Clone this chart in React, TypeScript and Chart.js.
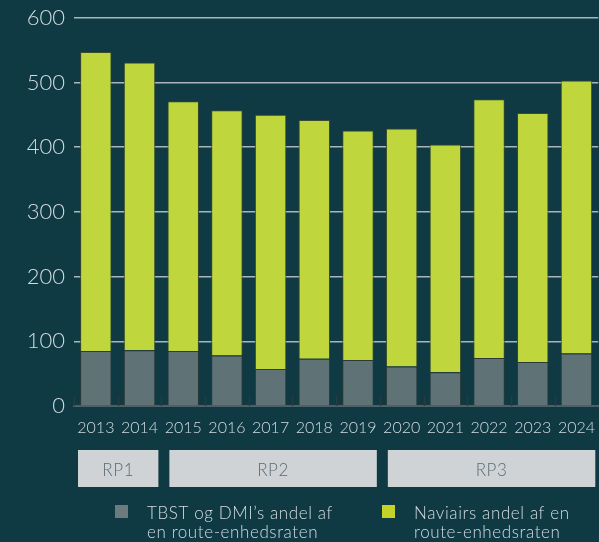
import React, { useEffect, useRef } from "react";
import { Chart, registerables } from "chart.js";

Chart.register(...registerables);

const years = ["2013", "2014", "2015", "2016", "2017", "2018", "2019", "2020", "2021", "2022", "2023", "2024"];
const tbstShare = [85, 86, 85, 78, 57, 73, 71, 61, 52, 74, 68, 81];
const naviairShare = [462, 445, 386, 379, 393, 369, 355, 368, 352, 400, 385, 422];
const yTicks = [0, 100, 200, 300, 400, 500, 600];
const periods = [
  { label: "RP1", from: 0, to: 1 },
  { label: "RP2", from: 2, to: 6 },
  { label: "RP3", from: 7, to: 11 },
];
const legendLabels = [
  ["TBST og DMI\u2019s andel af", "en route-enhedsraten"],
  ["Naviairs andel af en", "route-enhedsraten"],
];

const BG = "#0f3a44";
const GREY = "#5f7276";
const GREEN = "#bfd73c";
const TEXT = "#d3dcdf";
const FONT = "Lato, 'Open Sans', sans-serif";

const extrasPlugin = {
  id: "extras",
  beforeDraw(chart: any) {
    const { ctx, width, height } = chart;
    ctx.save();
    ctx.fillStyle = BG;
    ctx.fillRect(0, 0, width, height);
    ctx.restore();
  },
  afterDraw(chart: any) {
    const { ctx } = chart;
    const x = chart.scales.x;
    const area = chart.chartArea;
    const n = years.length;
    const cat = (area.right - area.left) / n;
    ctx.save();
    // category boundary ticks
    ctx.strokeStyle = "#2b3b3a";
    ctx.lineWidth = 1.5;
    for (let i = 0; i < n; i++) {
      const px = Math.round(x.getPixelForValue(i) - cat / 2) + 0.5;
      ctx.beginPath();
      ctx.moveTo(px, area.bottom - 10);
      ctx.lineTo(px, area.bottom);
      ctx.stroke();
    }
    // period boxes
    const boxTop = area.bottom + 44;
    const boxH = 37;
    ctx.font = `300 17px ${FONT}`;
    (ctx as any).letterSpacing = "0.6px";
    ctx.textAlign = "center";
    ctx.textBaseline = "middle";
    periods.forEach((p, idx) => {
      const l = x.getPixelForValue(p.from) - cat / 2 + (idx === 0 ? 4 : 8);
      const r = Math.min(x.getPixelForValue(p.to) + cat / 2 - 3, chart.width - 3);
      ctx.fillStyle = "#d0d3d6";
      ctx.fillRect(l, boxTop, r - l, boxH);
      ctx.fillStyle = "#5a6d75";
      ctx.fillText(p.label, (l + r) / 2, boxTop + boxH / 2 + 2);
    });
    // legend
    const legendX = [115, 382];
    ctx.textAlign = "left";
    ctx.textBaseline = "alphabetic";
    ctx.font = `300 17px ${FONT}`;
    (ctx as any).letterSpacing = "0.6px";
    legendLabels.forEach((lines, i) => {
      ctx.fillStyle = i === 0 ? "#6d7b80" : "#c5d22a";
      ctx.fillRect(legendX[i], 505, 13, 13);
      ctx.fillStyle = TEXT;
      lines.forEach((ln, j) => {
        ctx.fillText(ln, legendX[i] + 32, 519 + j * 19);
      });
    });
    ctx.restore();
  },
};

export default function App() {
  const ref = useRef<HTMLCanvasElement | null>(null);
  useEffect(() => {
    document.body.style.margin = "0";
    document.body.style.background = BG;
    if (!ref.current) return;
    const chart = new Chart(ref.current, {
      type: "bar",
      data: {
        labels: years,
        datasets: [
          {
            label: legendLabels[0].join(" "),
            data: tbstShare,
            backgroundColor: GREY,
            borderColor: "#2e3a36",
            borderWidth: 1,
            barPercentage: 0.72,
            categoryPercentage: 1,
          },
          {
            label: legendLabels[1].join(" "),
            data: naviairShare,
            backgroundColor: GREEN,
            borderColor: "#3a4a2a",
            borderWidth: 1,
            barPercentage: 0.72,
            categoryPercentage: 1,
          },
        ],
      },
      options: {
        responsive: false,
        animation: false,
        layout: { padding: { top: 0, right: 0, left: 0, bottom: 0 } },
        plugins: { legend: { display: false }, tooltip: { enabled: false } },
        scales: {
          x: {
            stacked: true,
            grid: { display: false },
            border: { display: true, color: "#4f5f63", width: 2 },
            ticks: {
              color: TEXT,
              font: { family: FONT, size: 16, weight: 300 as any },
              padding: 4,
              maxRotation: 0,
              autoSkip: false,
            },
            afterFit(scale: any) {
              scale.height = 136;
            },
          },
          y: {
            stacked: true,
            min: 0,
            max: 600,
            afterBuildTicks(scale: any) {
              scale.ticks = yTicks.map((v) => ({ value: v }));
            },
            grid: { color: "#aab6ba", lineWidth: 1.5, drawTicks: false },
            border: { display: false },
            ticks: {
              color: TEXT,
              font: { family: FONT, size: 22, weight: 300 as any, lineHeight: 0.8 },
              padding: 9,
            },
            afterFit(scale: any) {
              scale.width = 74;
            },
          },
        },
      },
      plugins: [extrasPlugin],
    });
    return () => chart.destroy();
  }, []);
  return (
    <div style={{ width: 599, height: 542 }}>
      <canvas ref={ref} width={599} height={542} style={{ display: "block" }} />
    </div>
  );
}
